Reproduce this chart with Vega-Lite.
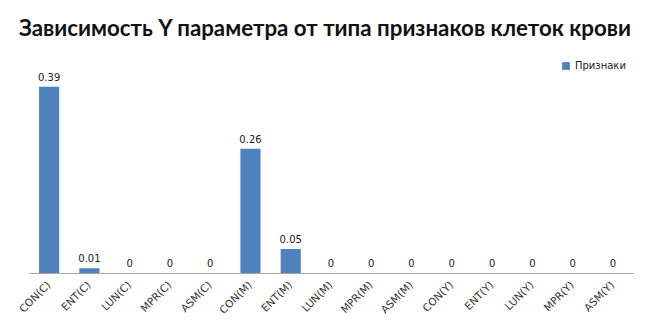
{
  "$schema": "https://vega.github.io/schema/vega-lite/v6.json",
  "width": 604,
  "height": 215,
  "autosize": {"type": "none"},
  "padding": {"left": 29, "top": 58, "right": 13, "bottom": 56},
  "background": "white",
  "title": {
    "text": "Зависимость Y параметра от типа признаков клеток крови",
    "font": "Lato",
    "fontSize": 22.3,
    "fontWeight": "bold",
    "color": "#111111",
    "anchor": "middle",
    "dx": -6,
    "offset": 18
  },
  "config": {"view": {"stroke": null}, "font": "DejaVu Sans"},
  "data": {
    "values": [
      {"cat": "CON(C)", "v": 0.39, "lab": "0.39", "s": "Признаки"},
      {"cat": "ENT(C)", "v": 0.01, "lab": "0.01", "s": "Признаки"},
      {"cat": "LUN(C)", "v": 0, "lab": "0", "s": "Признаки"},
      {"cat": "MPR(C)", "v": 0, "lab": "0", "s": "Признаки"},
      {"cat": "ASM(C)", "v": 0, "lab": "0", "s": "Признаки"},
      {"cat": "CON(M)", "v": 0.26, "lab": "0.26", "s": "Признаки"},
      {"cat": "ENT(M)", "v": 0.05, "lab": "0.05", "s": "Признаки"},
      {"cat": "LUN(M)", "v": 0, "lab": "0", "s": "Признаки"},
      {"cat": "MPR(M)", "v": 0, "lab": "0", "s": "Признаки"},
      {"cat": "ASM(M)", "v": 0, "lab": "0", "s": "Признаки"},
      {"cat": "CON(Y)", "v": 0, "lab": "0", "s": "Признаки"},
      {"cat": "ENT(Y)", "v": 0, "lab": "0", "s": "Признаки"},
      {"cat": "LUN(Y)", "v": 0, "lab": "0", "s": "Признаки"},
      {"cat": "MPR(Y)", "v": 0, "lab": "0", "s": "Признаки"},
      {"cat": "ASM(Y)", "v": 0, "lab": "0", "s": "Признаки"}
    ]
  },
  "encoding": {
    "x": {
      "field": "cat",
      "type": "nominal",
      "sort": null,
      "scale": {"paddingInner": 0.5, "paddingOuter": 0.25},
      "axis": {
        "title": null,
        "labelAngle": -45,
        "labelAlign": "right",
        "labelBaseline": "middle",
        "labelFont": "DejaVu Sans",
        "labelFontSize": 10.5,
        "labelColor": "#333333",
        "ticks": false,
        "labelPadding": 10,
        "domainColor": "#a6a6a6",
        "domainWidth": 1.2
      }
    },
    "y": {
      "field": "v",
      "type": "quantitative",
      "scale": {"domain": [0, 0.45]},
      "axis": null
    }
  },
  "layer": [
    {
      "mark": {"type": "bar", "color": "#4f81bd"},
      "encoding": {
        "color": {
          "field": "s",
          "type": "nominal",
          "scale": {"range": ["#4f81bd"]},
          "legend": {
            "title": null,
            "orient": "none",
            "legendX": 532,
            "legendY": 3,
            "symbolType": "square",
            "symbolSize": 60,
            "labelFont": "DejaVu Sans",
            "labelFontSize": 10,
            "labelColor": "#222222"
          }
        }
      }
    },
    {
      "mark": {"type": "text", "dy": -9, "font": "DejaVu Sans", "fontSize": 10, "color": "#222222"},
      "encoding": {"text": {"field": "lab"}}
    }
  ]
}
